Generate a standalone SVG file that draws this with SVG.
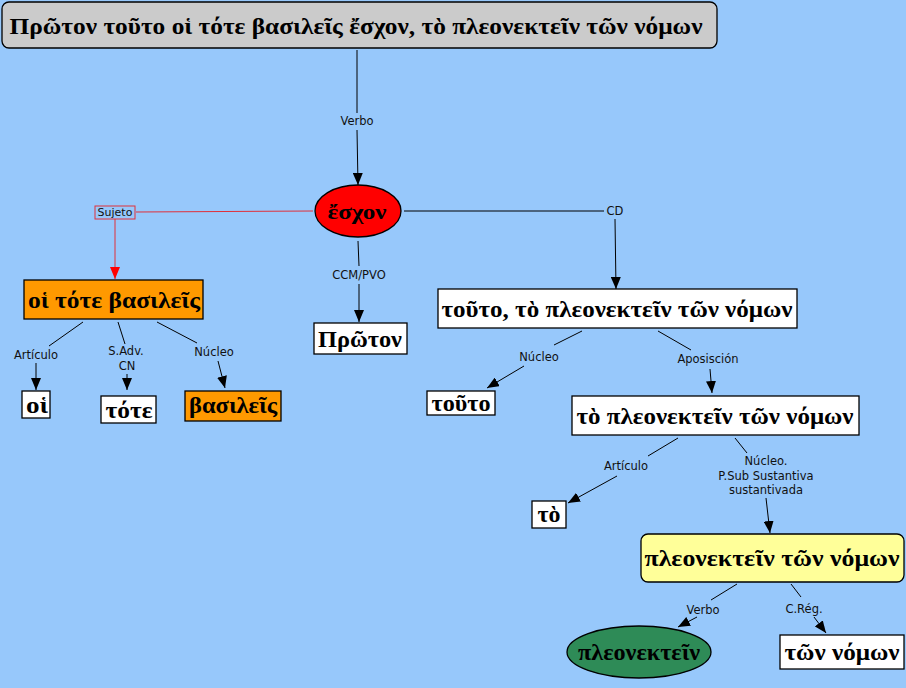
<svg xmlns="http://www.w3.org/2000/svg" width="906" height="688" viewBox="0 0 906 688">
<defs>
<marker id="ah" viewBox="0 0 12 10" refX="12" refY="5" markerWidth="12" markerHeight="10" markerUnits="userSpaceOnUse" orient="auto"><path d="M0,0 L12,5 L0,10 Z" fill="#000"/></marker>
<marker id="ahr" viewBox="0 0 12 10" refX="12" refY="5" markerWidth="12" markerHeight="10" markerUnits="userSpaceOnUse" orient="auto"><path d="M0,0 L12,5 L0,10 Z" fill="#ff0000"/></marker>
</defs>
<style>
.g{font-family:"Liberation Serif","DejaVu Serif",serif;font-weight:bold;fill:#000;text-anchor:middle;font-size:24px}
.lb{font-family:"DejaVu Sans","Verdana",sans-serif;font-size:11.5px;fill:#111;text-anchor:middle}
.ln{stroke:#000;stroke-width:1;fill:none}
.lr{stroke:#e0303a;stroke-width:1;fill:none}
.box{stroke:#000;stroke-width:1.3}
</style>
<rect x="0" y="0" width="906" height="688" fill="#97c8fb"/>

<g id="connectors">
<line class="ln" x1="357" y1="50" x2="357" y2="113"/>
<text class="lb" x="357" y="125">Verbo</text>
<line class="ln" x1="357" y1="130" x2="358" y2="185" marker-end="url(#ah)"/>

<line class="lr" x1="313" y1="211" x2="136" y2="212"/>
<rect x="95" y="206" width="40" height="13" fill="none" stroke="#e0303a" stroke-width="1"/>
<text class="lb" x="115" y="216" style="font-size:11px">Sujeto</text>
<line class="lr" x1="115" y1="219" x2="115" y2="279" marker-end="url(#ahr)"/>

<line class="ln" x1="404" y1="211" x2="604" y2="211"/>
<text class="lb" x="615" y="215">CD</text>
<line class="ln" x1="615" y1="219" x2="616" y2="289" marker-end="url(#ah)"/>

<line class="ln" x1="358" y1="241" x2="359" y2="266"/>
<text class="lb" x="359" y="279">CCM/PVO</text>
<line class="ln" x1="359" y1="284" x2="359" y2="322" marker-end="url(#ah)"/>

<line class="ln" x1="83" y1="322" x2="49" y2="346"/>
<text class="lb" x="36" y="359">Artículo</text>
<line class="ln" x1="36" y1="363" x2="36" y2="390" marker-end="url(#ah)"/>

<line class="ln" x1="118" y1="322" x2="125" y2="344"/>
<text class="lb" x="126" y="355">S.Adv.</text>
<text class="lb" x="127" y="370">CN</text>
<line class="ln" x1="127" y1="374" x2="127" y2="390" marker-end="url(#ah)"/>

<line class="ln" x1="157" y1="322" x2="197" y2="343"/>
<text class="lb" x="214" y="356">Núcleo</text>
<line class="ln" x1="218" y1="361" x2="225" y2="388" marker-end="url(#ah)"/>

<line class="ln" x1="582" y1="331" x2="554" y2="345"/>
<text class="lb" x="539" y="361">Núcleo</text>
<line class="ln" x1="524" y1="366" x2="487" y2="388" marker-end="url(#ah)"/>

<line class="ln" x1="658" y1="331" x2="691" y2="350"/>
<text class="lb" x="708" y="363">Aposisción</text>
<line class="ln" x1="710" y1="369" x2="712" y2="393" marker-end="url(#ah)"/>

<line class="ln" x1="678" y1="438" x2="648" y2="456"/>
<text class="lb" x="626" y="470">Artículo</text>
<line class="ln" x1="617" y1="476" x2="568" y2="503" marker-end="url(#ah)"/>

<line class="ln" x1="735" y1="438" x2="747" y2="453"/>
<text class="lb" x="766" y="465">Núcleo.</text>
<text class="lb" x="766" y="480">P.Sub Sustantiva</text>
<text class="lb" x="766" y="494">sustantivada</text>
<line class="ln" x1="766" y1="498" x2="770" y2="533" marker-end="url(#ah)"/>

<line class="ln" x1="737" y1="584" x2="711" y2="600"/>
<text class="lb" x="703" y="614">Verbo</text>
<line class="ln" x1="697" y1="617" x2="678" y2="627" marker-end="url(#ah)"/>

<line class="ln" x1="791" y1="584" x2="801" y2="597"/>
<text class="lb" x="804" y="613">C.Rég.</text>
<line class="ln" x1="814" y1="617" x2="826" y2="633" marker-end="url(#ah)"/>
</g>

<g id="title">
<rect class="box" x="2" y="2" width="715" height="46" rx="7" fill="#cbcbcb"/>
<text class="g" x="356" y="34" textLength="693" lengthAdjust="spacingAndGlyphs">Πρῶτον τοῦτο οἱ τότε βασιλεῖς ἔσχον, τὸ πλεονεκτεῖν τῶν νόμων</text>
</g>

<g id="eschon">
<ellipse class="box" cx="358" cy="211" rx="43" ry="26" fill="#ff0000"/>
<text class="g" x="357" y="219" style="font-size:22px" textLength="59" lengthAdjust="spacingAndGlyphs">ἔσχον</text>
</g>

<g id="sujeto-node">
<rect class="box" x="24" y="280" width="179" height="39" fill="#ff9900"/>
<text class="g" x="114" y="308" textLength="172" lengthAdjust="spacingAndGlyphs">οἱ τότε βασιλεῖς</text>
</g>

<g id="proton">
<rect class="box" x="314" y="323" width="93" height="31" fill="#ffffff"/>
<text class="g" x="360" y="347" textLength="84" lengthAdjust="spacingAndGlyphs">Πρῶτον</text>
</g>

<g id="cd-node">
<rect class="box" x="438" y="289" width="359" height="39" fill="#ffffff"/>
<text class="g" x="617" y="317" textLength="351" lengthAdjust="spacingAndGlyphs">τοῦτο, τὸ πλεονεκτεῖν τῶν νόμων</text>
</g>

<g id="hoi">
<rect class="box" x="22" y="391" width="28" height="27" fill="#ffffff"/>
<text class="g" x="37" y="413" textLength="22" lengthAdjust="spacingAndGlyphs">οἱ</text>
</g>

<g id="tote">
<rect class="box" x="101" y="396" width="55" height="27" fill="#ffffff"/>
<text class="g" x="129" y="418" textLength="47" lengthAdjust="spacingAndGlyphs">τότε</text>
</g>

<g id="basileis">
<rect class="box" x="185" y="391" width="96" height="30" fill="#ff9900"/>
<text class="g" x="233" y="413" textLength="88" lengthAdjust="spacingAndGlyphs">βασιλεῖς</text>
</g>

<g id="touto">
<rect class="box" x="427" y="391" width="68" height="24" fill="#ffffff"/>
<text class="g" x="461" y="411" textLength="59" lengthAdjust="spacingAndGlyphs">τοῦτο</text>
</g>

<g id="apos-node">
<rect class="box" x="572" y="396" width="287" height="39" fill="#ffffff"/>
<text class="g" x="715" y="424" textLength="277" lengthAdjust="spacingAndGlyphs">τὸ πλεονεκτεῖν τῶν νόμων</text>
</g>

<g id="to">
<rect class="box" x="532" y="501" width="34" height="27" fill="#ffffff"/>
<text class="g" x="549" y="522" textLength="23" lengthAdjust="spacingAndGlyphs">τὸ</text>
</g>

<g id="inf-node">
<rect class="box" x="641" y="534" width="263" height="48" rx="7" fill="#ffff99"/>
<text class="g" x="772" y="566" textLength="255" lengthAdjust="spacingAndGlyphs">πλεονεκτεῖν τῶν νόμων</text>
</g>

<g id="pleonektein">
<ellipse class="box" cx="639" cy="652" rx="72" ry="26" fill="#2e8b57"/>
<text class="g" x="639" y="660" textLength="122" lengthAdjust="spacingAndGlyphs">πλεονεκτεῖν</text>
</g>

<g id="ton-nomon">
<rect class="box" x="780" y="635" width="124" height="34" fill="#ffffff"/>
<text class="g" x="842" y="660" textLength="115" lengthAdjust="spacingAndGlyphs">τῶν νόμων</text>
</g>
</svg>
